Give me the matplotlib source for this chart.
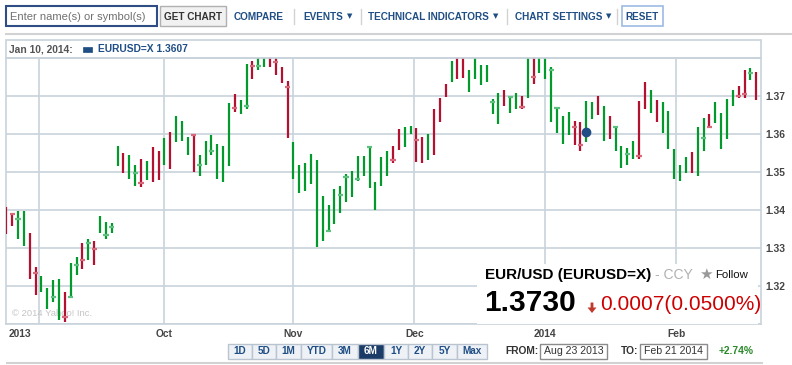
import matplotlib.pyplot as plt
from matplotlib.patches import Rectangle, Polygon
from matplotlib.lines import Line2D

plt.rcParams['font.family'] = ['Liberation Sans', 'DejaVu Sans']

# daily EUR/USD bars, Aug 23 2013 .. Feb 21 2014 (index = trading day)
highs = [1.3410, 1.3392, 1.3399, 1.3398, 1.3340, 1.3252, 1.3228, 1.3196, 1.3217, 1.3220,
         1.3185, 1.3262, 1.3277, 1.3313, 1.3324, 1.3318, 1.3385, 1.3369, 1.3366, 1.3570,
         1.3551, 1.3546, 1.3519, 1.3535, 1.3530, 1.3567, 1.3557, 1.3589, 1.3606, 1.3647,
         1.3634, 1.3593, 1.3601, 1.3546, 1.3583, 1.3598, 1.3575, 1.3570, 1.3683, 1.3705,
         1.3689, 1.3786, 1.3793, 1.3800, 1.3800, 1.3800, 1.3800, 1.3776, 1.3740, 1.3581,
         1.3519, 1.3524, 1.3547, 1.3532, 1.3438, 1.3414, 1.3455, 1.3465, 1.3496, 1.3504,
         1.3543, 1.3543, 1.3569, 1.3475, 1.3539, 1.3556, 1.3569, 1.3614, 1.3618, 1.3622,
         1.3616, 1.3594, 1.3601, 1.3667, 1.3696, 1.3733, 1.3794, 1.3800, 1.3800, 1.3769,
         1.3800, 1.3782, 1.3782, 1.3692, 1.3710, 1.3717, 1.3699, 1.3708, 1.3701, 1.3800,
         1.3800, 1.3800, 1.3800, 1.3776, 1.3673, 1.3647, 1.3659, 1.3636, 1.3633, 1.3688,
         1.3686, 1.3701, 1.3675, 1.3648, 1.3622, 1.3568, 1.3563, 1.3582, 1.3688, 1.3737,
         1.3717, 1.3690, 1.3686, 1.3662, 1.3562, 1.3519, 1.3539, 1.3553, 1.3620, 1.3642,
         1.3653, 1.3686, 1.3657, 1.3692, 1.3717, 1.3727, 1.3768, 1.3774, 1.3765]
lows = [1.3337, 1.3359, 1.3325, 1.3307, 1.3220, 1.3178, 1.3184, 1.3141, 1.3160, 1.3111,
        1.3105, 1.3168, 1.3231, 1.3246, 1.3268, 1.3256, 1.3341, 1.3325, 1.3339, 1.3516,
        1.3499, 1.3482, 1.3465, 1.3462, 1.3479, 1.3475, 1.3481, 1.3518, 1.3509, 1.3581,
        1.3582, 1.3545, 1.3502, 1.3490, 1.3520, 1.3545, 1.3482, 1.3475, 1.3517, 1.3660,
        1.3654, 1.3666, 1.3745, 1.3770, 1.3778, 1.3778, 1.3756, 1.3734, 1.3589, 1.3482,
        1.3445, 1.3450, 1.3469, 1.3304, 1.3320, 1.3344, 1.3364, 1.3392, 1.3423, 1.3436,
        1.3477, 1.3490, 1.3460, 1.3400, 1.3463, 1.3491, 1.3524, 1.3560, 1.3567, 1.3601,
        1.3528, 1.3525, 1.3532, 1.3546, 1.3633, 1.3697, 1.3737, 1.3746, 1.3749, 1.3712,
        1.3746, 1.3729, 1.3737, 1.3653, 1.3627, 1.3675, 1.3657, 1.3666, 1.3666, 1.3695,
        1.3732, 1.3762, 1.3746, 1.3633, 1.3604, 1.3575, 1.3598, 1.3573, 1.3556, 1.3580,
        1.3639, 1.3651, 1.3583, 1.3588, 1.3557, 1.3511, 1.3519, 1.3536, 1.3534, 1.3666,
        1.3657, 1.3633, 1.3604, 1.3561, 1.3482, 1.3478, 1.3497, 1.3497, 1.3491, 1.3557,
        1.3618, 1.3631, 1.3562, 1.3587, 1.3675, 1.3695, 1.3696, 1.3743, 1.3690]
# g = up day, r = down day
bar_dir = ("rrggrrgggg" "rggrgrgggg" "rggrgrrgrg" "ggrggggggr" "ggrggrrrrg"
           "gggggggggg" "ggggggrrgg" "rrgrrrgrrg" "gggggrggrg" "rggggggrrg"
           "grgrggggrr" "grgggggrgg" "rggggrrgr")
tick_idx = [1, 2, 5, 8, 10, 11, 12, 13, 14, 15, 17, 18, 22, 23, 32, 33, 35, 39, 41, 42,
            43, 46, 48, 55, 57, 58, 60, 62, 66, 70, 83, 86, 88, 90, 93, 94, 97, 98, 104,
            106, 108, 119, 120, 125, 126, 127]
tick_val = [1.3389, 1.3378, 1.3236, 1.3173, 1.3118, 1.3172, 1.3257, 1.3268, 1.3315, 1.3299,
            1.3336, 1.3356, 1.3499, 1.3472, 1.3598, 1.3520, 1.3557, 1.3670, 1.3675, 1.3781,
            1.3781, 1.3791, 1.3725, 1.3346, 1.3439, 1.3488, 1.3483, 1.3566, 1.3532, 1.3586,
            1.3686, 1.3699, 1.3673, 1.3752, 1.3768, 1.3668, 1.3618, 1.3573, 1.3618, 1.3548,
            1.3543, 1.3591, 1.3620, 1.3702, 1.3706, 1.3762]

sel_day = 99
sel_close = 1.3607

month_pos = [5.63, 26.97, 48.98, 69.64, 92.0, 114.35]
month_labels = ['', 'Oct', 'Nov', 'Dec', '2014', 'Feb']
price_ticks = [1.31, 1.32, 1.33, 1.34, 1.35, 1.36, 1.37, 1.38]
price_labels = ['', '1.32', '1.33', '1.34', '1.35', '1.36', '1.37', '']
range_names = ['1D', '5D', '1M', 'YTD', '3M', '6M', '1Y', '2Y', '5Y', 'Max']

GREEN, RED = '#03992c', '#b31130'
GREEN_T, RED_T = '#5cc07e', '#d8697b'
BLUE = '#1f4e85'
GRID = '#c9d3db'

W, H = 792, 365
fig = plt.figure(figsize=(7.92, 3.65), dpi=100)


def fx(x):
    return x / W


def fy(y):
    return 1 - y / H


def label(x, y, s, **kw):
    kw.setdefault('va', 'center')
    fig.text(fx(x), fy(y), s, **kw)


def box(x0, y0, x1, y1, fc='white', ec='#aaaaaa', lw=1.0):
    fig.add_artist(Rectangle((fx(x0), fy(y1)), fx(x1) - fx(x0), fy(y0) - fy(y1),
                             transform=fig.transFigure, fc=fc, ec=ec, lw=lw))


def hline(x0, x1, y, color='#d2d2d2', lw=1.5):
    fig.add_artist(Line2D([fx(x0), fx(x1)], [fy(y), fy(y)], color=color, lw=lw,
                          transform=fig.transFigure))


def vline(x, y0, y1, color='#d2d2d2', lw=1.0):
    fig.add_artist(Line2D([fx(x), fx(x)], [fy(y0), fy(y1)], color=color, lw=lw,
                          transform=fig.transFigure))


# ---- main chart ----
ax = fig.add_axes([fx(6.3), fy(324.3), fx(761) - fx(6.3), fy(58.3) - fy(324.3)])
days = list(range(len(highs)))
colors = [GREEN if d == 'g' else RED for d in bar_dir]
ax.vlines(days, lows, highs, colors=colors, lw=1.6, zorder=3)
tcol = [GREEN_T if bar_dir[i] == 'g' else RED_T for i in tick_idx]
ax.hlines(tick_val, [i - 0.45 for i in tick_idx], [i + 0.45 for i in tick_idx],
          colors=tcol, lw=1.6, zorder=4)
ax.plot(sel_day, sel_close, 'o', color=BLUE, ms=6, zorder=5)

ax.set_xlim(0, 128.81)
ax.set_ylim(1.31, 1.38)
ax.set_axisbelow(True)
ax.grid(color=GRID, lw=1.2)
ax.set_xticks(month_pos, month_labels)
ax.set_yticks(price_ticks, price_labels)
ax.yaxis.tick_right()
ax.tick_params(axis='x', length=0, pad=3.5, labelsize=7.4, labelcolor='#444444')
ax.tick_params(axis='y', length=0, pad=3.4, labelsize=7.4, labelcolor='#444444')
for t in ax.get_xticklabels() + ax.get_yticklabels():
    t.set_fontweight('bold')
for s in ax.spines.values():
    s.set_color(GRID)
    s.set_linewidth(1.2)
ax.text(0.007, 0.03, '\u00a9 2014 Yahoo! Inc.', transform=ax.transAxes, fontsize=6.8,
        color='#c4c4c4', zorder=1)
label(9, 334, '2013', fontsize=7.4, fontweight='bold', color='#444444')

# header band above plot
box(6.3, 40, 761, 58.3, fc='none', ec=GRID, lw=1.2)
label(9, 49.5, 'Jan 10, 2014:', fontsize=7.4, fontweight='bold', color='#555555')
box(83, 47, 92, 51.5, fc=BLUE, ec=BLUE, lw=0.5)
label(98, 49.5, 'EURUSD=X 1.3607', fontsize=7.4, fontweight='bold', color=BLUE)

# quote overlay
box(477, 264, 758, 323.5, fc='white', ec='white', lw=0)
label(485, 275, 'EUR/USD (EURUSD=X)', fontsize=11, fontweight='bold', color='black')
label(655, 275, '- CCY', fontsize=10, color='#b0b0b0')
label(706, 274.5, '\u2605', fontsize=11, color='#999999', ha='center',
      family=['DejaVu Sans'])
label(715, 275, 'Follow', fontsize=8.2, color='#111111')
label(484, 303, '1.3730', fontsize=21.5, fontweight='bold', color='black')
fig.add_artist(Polygon([(fx(590.6), fy(302.5)), (fx(593.4), fy(302.5)), (fx(593.4), fy(307.5)),
                        (fx(596.5), fy(307.5)), (fx(592), fy(313)), (fx(587.5), fy(307.5)),
                        (fx(590.6), fy(307.5))], closed=True, transform=fig.transFigure,
                       fc='#c0392b', ec='none'))
label(600, 304, '0.0007(0.0500%)', fontsize=15, color='#cc0000')

# ---- toolbar ----
box(6, 6, 157, 26, ec='#2d4d84', lw=1.5)
label(10, 16.5, 'Enter name(s) or symbol(s)', fontsize=8, color='#707070')
box(160, 6, 226, 26, fc='#f1f1f1', ec='#b0b0b0')
label(193, 16.5, 'GET CHART', fontsize=7.2, fontweight='bold', color='#333333', ha='center')
label(234, 16.5, 'COMPARE', fontsize=7.2, fontweight='bold', color=BLUE)
label(303, 16.5, 'EVENTS', fontsize=7.2, fontweight='bold', color=BLUE)
label(368, 16.5, 'TECHNICAL INDICATORS', fontsize=7.2, fontweight='bold', color=BLUE)
label(515, 16.5, 'CHART SETTINGS', fontsize=7.2, fontweight='bold', color=BLUE)
for ax_x in [350, 496, 609]:
    label(ax_x, 16, '\u25bc', fontsize=5, color=BLUE, ha='center', family=['DejaVu Sans'])
for sx in [294, 361, 507, 617]:
    vline(sx, 9, 24)
box(622, 6, 663, 26, ec='#9dbbe3', lw=1.2)
label(642.5, 16.5, 'RESET', fontsize=7.2, fontweight='bold', color=BLUE, ha='center')
hline(6, 792, 34)

# ---- range buttons / dates ----
edges = [228, 252, 276, 301, 332, 358, 384, 408, 432, 457, 487]
for i, name in enumerate(range_names):
    sel = name == '6M'
    box(edges[i], 343.5, edges[i + 1], 359, fc='#1c3c68' if sel else '#eef2f6',
        ec='#b9c4d0', lw=1.0)
    label((edges[i] + edges[i + 1]) / 2, 351.5, name, fontsize=7.2, fontweight='bold',
          color='white' if sel else BLUE, ha='center')
label(505, 351.5, 'FROM:', fontsize=7.4, fontweight='bold', color='#333333')
box(540, 344, 607, 359, ec='#8c8c8c')
label(544, 351.5, 'Aug 23 2013', fontsize=7.6, color='#333333')
label(621, 351.5, 'TO:', fontsize=7.4, fontweight='bold', color='#333333')
box(640, 344, 707, 359, ec='#8c8c8c')
label(644, 351.5, 'Feb 21 2014', fontsize=7.6, color='#333333')
label(719, 351.5, '+2.74%', fontsize=7.4, fontweight='bold', color='#2a8a2a')
hline(7, 762, 363)

fig.savefig('out.png', dpi=100, facecolor='white')
